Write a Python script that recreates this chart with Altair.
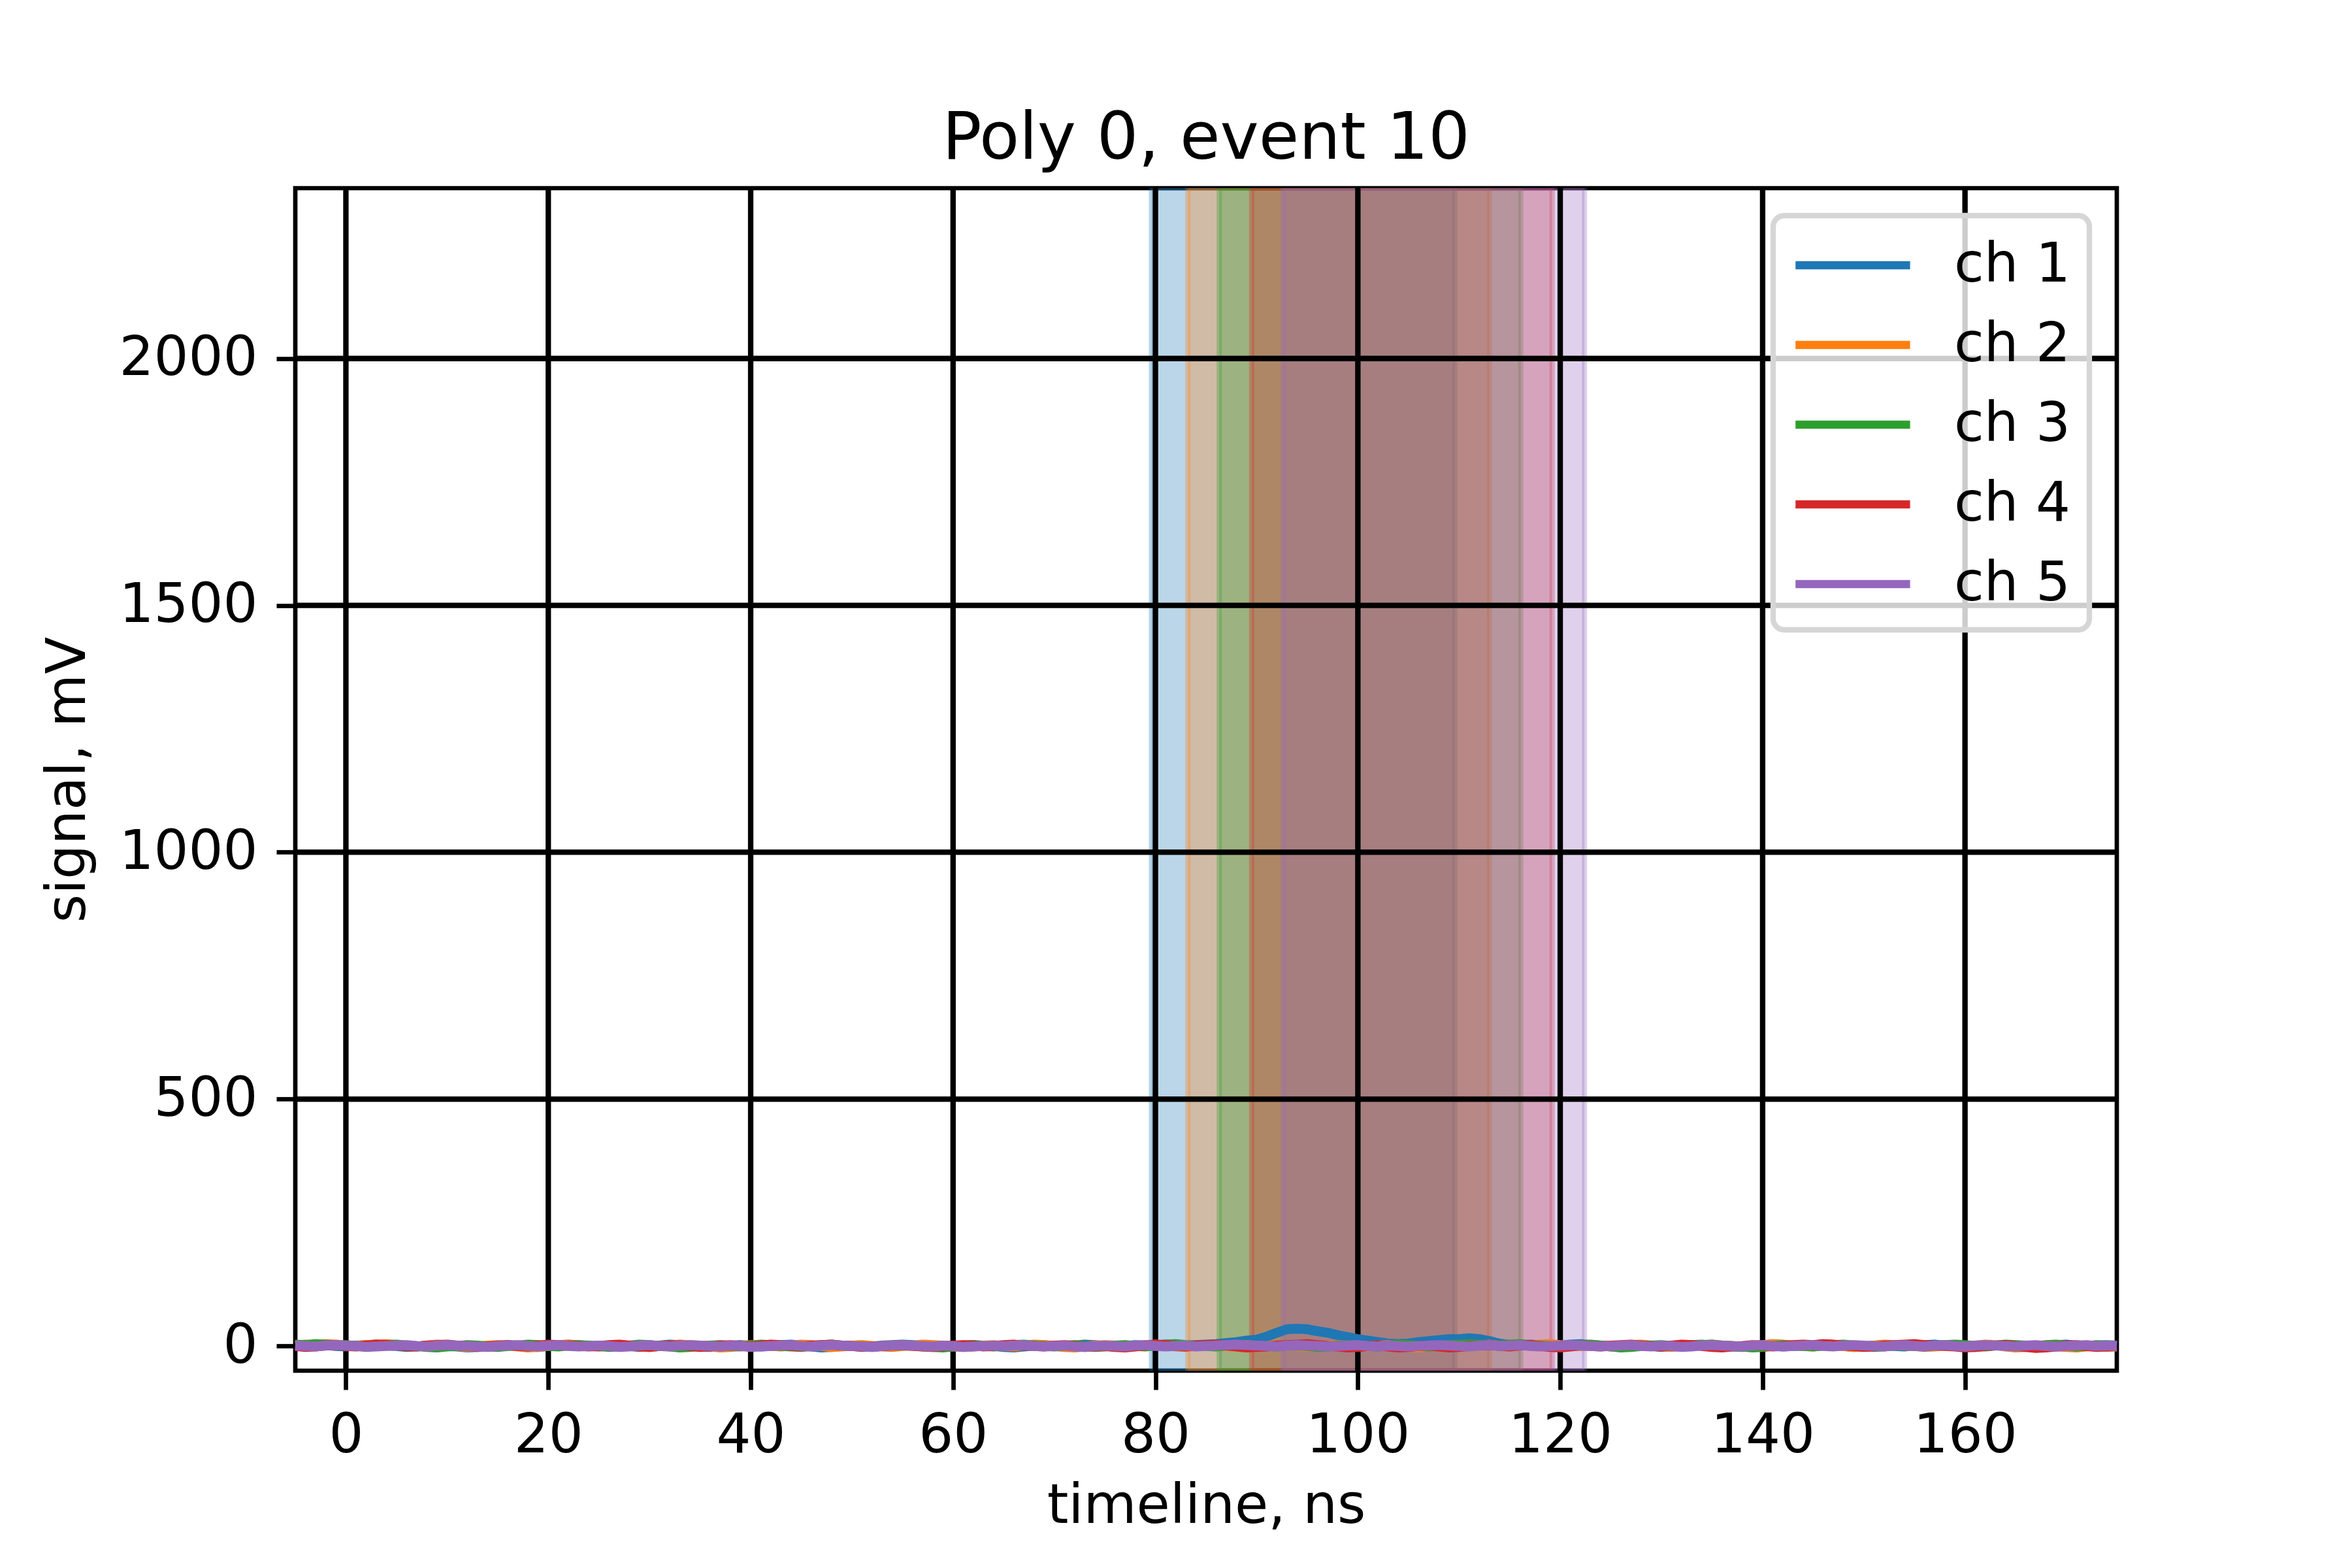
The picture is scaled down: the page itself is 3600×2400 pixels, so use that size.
import pandas as pd
import altair as alt

# sample times, ns
time = list(range(-5, 176))

channels = ["ch 1", "ch 2", "ch 3", "ch 4", "ch 5"]
colors = ["#1f77b4", "#ff7f0e", "#2ca02c", "#d62728", "#9467bd"]

# signal, mV (one row = 10 ns)
ch1 = [2, 1, 3, 2, 0, -1, 1, 2, 3, 1,
       0, -2, -1, 1, 2, 0, -1, -3, -2, 0,
       1, 2, 1, -1, -2, 0, 2, 3, 1, 0,
       -1, 1, 2, 0, -2, -1, 1, 3, 2, 0,
       -1, -2, 0, 1, 2, 1, -1, 0, 2, 3,
       1, -1, -3, -2, 0, 1, 0, -1, 1, 2,
       3, 2, 0, -1, -2, -1, 1, 2, 1, 0,
       -2, -3, -1, 1, 2, 0, -1, 1, 3, 2,
       0, -1, 0, 2, 1, 2, 3, 2, 1, 2,
       3, 4, 6, 8, 11, 13, 19, 27, 34, 35,
       34, 30, 27, 22, 18, 14, 11, 8, 5, 4,
       5, 8, 10, 12, 14, 14, 16, 14, 10, 5,
       2, 1, 3, 2, 0, 1, 3, 4, 2, 1,
       0, -1, 1, 2, 0, -2, -1, 1, 2, 3,
       1, 0, -1, -2, 0, 2, 1, -1, 0, 1,
       2, 3, 1, 0, -2, -1, 1, 2, 0, -1,
       1, 2, 3, 1, 0, -1, -2, 0, 1, 2,
       1, -1, -2, 0, 2, 3, 1, 0, 1, 2,
       1]
ch2 = [1, 3, 2, 4, 3, 1, 0, 2, 3, 4,
       2, 0, -1, 1, 3, 2, 0, -2, -1, 1,
       2, 1, -1, -3, -2, 0, 1, 3, 2, 0,
       -1, 0, 2, 1, -1, -2, 0, 1, 3, 2,
       1, -1, -3, -2, 0, 2, 1, 0, -1, 1,
       3, 2, 0, -2, -1, 1, 2, 0, -1, -2,
       0, 1, 3, 2, 1, -1, -2, -1, 1, 2,
       0, -1, 1, 3, 2, 0, -2, -3, -1, 1,
       2, 1, -1, 0, 2, 3, 1, -1, -2, 0,
       1, 2, 0, -1, -3, -2, 0, 1, 2, 1,
       -1, -2, 0, 2, 1, 0, -1, 1, 2, 0,
       -2, -3, -1, 1, 0, -1, 1, 2, 3, 1,
       0, 2, 1, 3, 4, 2, 1, 0, 2, 1,
       -1, 0, 2, 3, 1, -1, -2, 0, 1, 2,
       3, 1, 0, -1, 1, 2, 4, 3, 1, 0,
       -1, 1, 2, 0, -2, -1, 1, 3, 2, 1,
       0, -2, -1, 1, 2, 0, 1, 3, 2, -1,
       -3, -2, 0, 1, -1, -2, -3, -1, 0, -2,
       -1]
ch3 = [3, 2, 4, 3, 1, 2, 0, -1, 1, 2,
       3, 1, 0, -2, -3, -1, 0, 2, 1, -1,
       -2, 0, 1, 3, 2, 0, -1, 1, 2, 1,
       0, -2, -1, 1, 3, 2, 0, -1, -3, -2,
       0, 1, 2, 0, -1, 1, 3, 2, 0, -1,
       -2, 0, 2, 3, 1, 0, -1, -2, 0, 1,
       2, 1, -1, -2, -3, -1, 1, 2, 0, -1,
       1, 2, 3, 1, 0, -1, 1, 2, 0, -2,
       -1, 1, 2, 0, -1, 1, 3, 4, 2, 1,
       0, -1, 1, 2, 3, 1, 0, -1, 1, 2,
       0, -2, -1, 1, 2, 1, 0, -1, 1, 3,
       2, 0, -1, 1, 2, 3, 4, 3, 2, 1,
       3, 4, 2, 1, 0, -1, 1, 2, 3, 1,
       -1, -3, -2, 0, 1, 2, 0, -1, 1, 2,
       3, 1, 0, -1, -3, -2, 0, 2, 1, 0,
       -1, 1, 2, 3, 1, 0, -2, -1, 1, 2,
       0, -1, 1, 2, 3, 2, 0, -1, 1, 3,
       2, 1, 0, 2, 3, 1, -1, 0, 2, 1,
       0]
ch4 = [0, -2, -1, 1, 2, 0, -1, 1, 3, 2,
       1, 0, -1, 1, 2, 3, 1, 0, -2, -1,
       1, 2, 0, -1, 1, 3, 2, 1, 0, -1,
       0, 2, 3, 1, -1, -2, 0, 1, 2, 0,
       -2, -1, 1, 2, 0, -1, 1, 3, 2, 0,
       -1, 1, 2, 3, 1, 0, -2, -1, 0, 1,
       2, 0, -1, -2, 0, 1, 2, 1, -1, 0,
       2, 3, 1, 0, -1, 1, 2, 0, -2, -1,
       0, -2, -3, -1, 1, 3, 2, 0, -1, 1,
       2, 3, 1, -1, -3, -2, -1, 1, 2, 3,
       4, 2, 0, -1, -3, -2, 0, 1, -1, -3,
       -2, 0, 1, -1, -3, -2, 0, 1, 2, 0,
       -1, 1, 2, 0, -2, -3, -1, 1, 0, -1,
       1, 2, 3, 1, 0, -1, 1, 3, 2, 0,
       -2, -3, -1, 0, 2, 1, -1, 0, 2, 3,
       2, 4, 3, 1, 0, -2, -1, 1, 2, 3,
       4, 2, 1, 0, -1, -3, -2, 0, 1, 2,
       0, -2, -4, -3, -1, 1, 2, 0, -2, -1,
       0]
ch5 = [1, 0, -1, 1, 2, 1, 0, -2, -1, 0,
       1, 2, 0, -1, 1, 2, 1, 0, -1, -2,
       0, 1, 2, 0, -1, 1, 2, 0, -1, 0,
       1, 0, -2, -1, 1, 2, 0, -1, 1, 2,
       1, 0, -1, 1, 0, -2, -1, 0, 1, 2,
       0, -1, 1, 2, 1, 0, -1, -2, 0, 1,
       2, 1, 0, -1, 1, 0, -2, -1, 0, 1,
       0, 1, 2, 0, -1, 0, 1, -1, -2, 0,
       1, 0, -1, 1, 2, 0, -1, 0, 1, -1,
       0, 1, 2, 3, 2, 1, 0, -1, 1, 2,
       1, 0, -1, 0, 1, 2, 0, -1, 1, 0,
       -1, 0, 1, 2, 1, 0, -1, 1, 2, 0,
       1, 2, 0, -1, 0, 1, 2, 1, 0, -1,
       0, 1, 2, 0, -1, 1, 0, -2, -1, 1,
       2, 1, 0, -1, 1, 2, 0, -1, 0, 1,
       2, 0, -1, 1, 2, 1, 0, -1, 1, 2,
       0, -1, 1, 2, 0, -1, 1, 2, 1, 0,
       -1, 1, 2, 0, -1, 0, 1, 2, 0, 1,
       0]

# integration windows per channel, ns
win_start = [79.6, 83.2, 86.3, 89.5, 92.6]
win_end = [109.6, 113.0, 116.1, 119.2, 122.4]

x_ticks = [0, 20, 40, 60, 80, 100, 120, 140, 160]
y_ticks = [0, 500, 1000, 1500, 2000]

rows = []
for name, sig in zip(channels, [ch1, ch2, ch3, ch4, ch5]):
    for t, v in zip(time, sig):
        rows.append({"t": t, "v": v, "ch": name})
signals = pd.DataFrame(rows)
windows = pd.DataFrame({"start": win_start, "end": win_end, "col": colors})

W, H = 2788, 1810
FS = 83.3
FONT = "DejaVu Sans"

xs = alt.Scale(domain=[-5, 175], nice=False, zero=False)
ys = alt.Scale(domain=[-50, 2345], nice=False, zero=False)
x_axis = alt.Axis(values=x_ticks, title="timeline, ns", titlePadding=26)
y_axis = alt.Axis(values=y_ticks, title="signal, mV", format="d", labelLimit=1000,
                  titleX=-348, titleBaseline="middle")

spans = alt.Chart(windows).mark_rect(
    fillOpacity=0.3, strokeOpacity=0.3, strokeWidth=8, clip=True
).encode(
    x=alt.X("start:Q", scale=xs, axis=x_axis),
    x2="end:Q",
    y=alt.value(0),
    y2=alt.value(H),
    fill=alt.Fill("col:N", scale=None),
    stroke=alt.Stroke("col:N", scale=None),
)

grid_x = alt.Chart(pd.DataFrame({"t": x_ticks})).mark_rule(
    color="black", strokeWidth=8.3
).encode(x=alt.X("t:Q", scale=xs, axis=x_axis))

grid_y = alt.Chart(pd.DataFrame({"v": y_ticks})).mark_rule(
    color="black", strokeWidth=8.3
).encode(y=alt.Y("v:Q", scale=ys, axis=y_axis))

lines = alt.Chart(signals).mark_line(strokeWidth=15, strokeJoin="round").encode(
    x=alt.X("t:Q", scale=xs, axis=x_axis),
    y=alt.Y("v:Q", scale=ys, axis=y_axis),
    color=alt.Color(
        "ch:N",
        scale=alt.Scale(domain=channels, range=colors),
        legend=alt.Legend(
            title=None,
            orient="top-right",
            offset=42,
            padding=28,
            symbolType="M-1,0H3.2",
            symbolSize=6972,
            symbolStrokeWidth=12.5,
            labelFont=FONT,
            labelFontSize=FS,
            labelColor="black",
            labelLimit=1000,
            labelOffset=153,
            rowPadding=32,
            fillColor="rgba(255,255,255,0.8)",
            strokeColor="#d6d6d6",
            cornerRadius=17,
        ),
    ),
    detail="ch:N",
)

chart = alt.layer(spans, grid_x, grid_y, lines).properties(
    width=W,
    height=H,
    autosize=alt.AutoSizeParams(type="none"),
    padding={"left": 444, "top": 280, "right": 352, "bottom": 294},
    title=alt.TitleParams(
        "Poly 0, event 10",
        font=FONT,
        fontSize=100,
        fontWeight="normal",
        color="black",
        anchor="middle",
        offset=20,
    ),
).configure(background="white").configure_view(
    stroke="black", strokeWidth=6.7
).configure_axis(
    grid=False,
    domain=False,
    ticks=True,
    tickColor="black",
    tickWidth=6.7,
    tickSize=29,
    labelPadding=29,
    labelFont=FONT,
    labelFontSize=FS,
    labelColor="black",
    titleFont=FONT,
    titleFontSize=FS,
    titleFontWeight="normal",
    titleColor="black",
    zindex=1,
).configure_legend(
    strokeWidth=8.3,
)

chart.save("out.html", embed_options={"renderer": "svg", "actions": False})
